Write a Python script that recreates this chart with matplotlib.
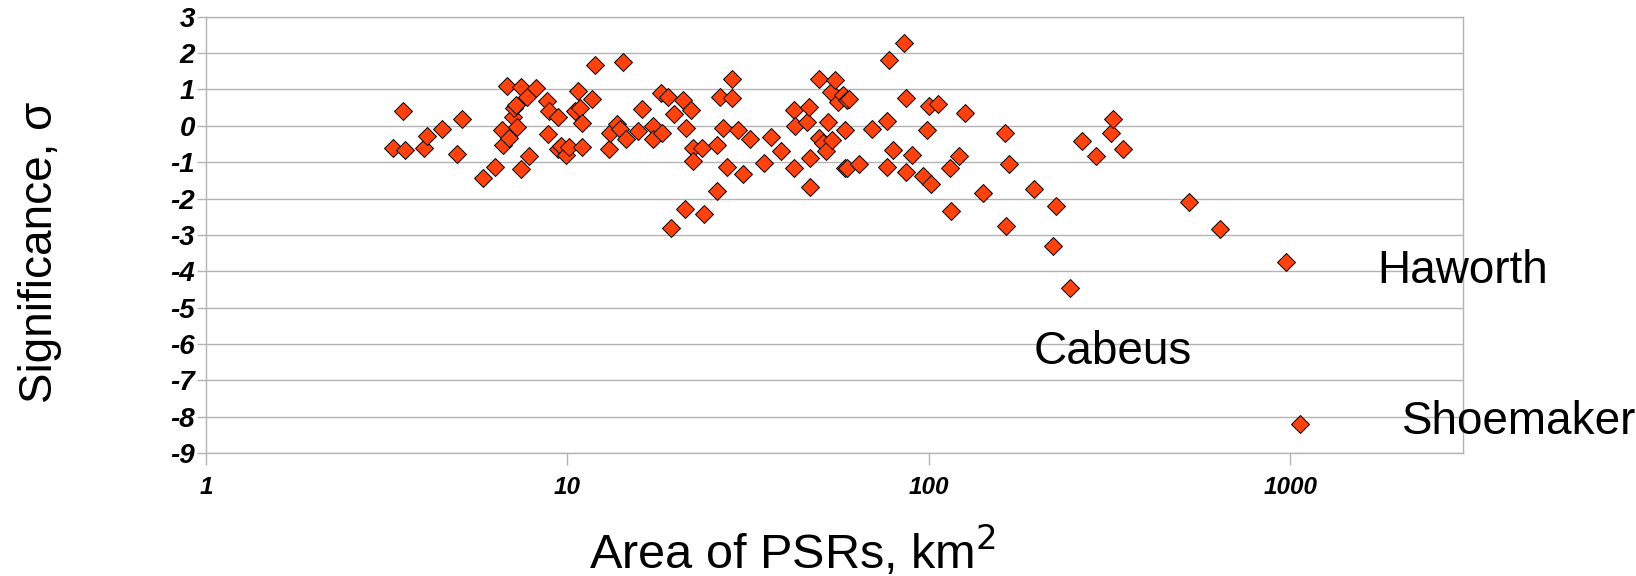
import numpy as np
import matplotlib.pyplot as plt

plt.rcParams['font.family'] = ['Liberation Sans', 'DejaVu Sans']
plt.rcParams['axes.unicode_minus'] = False

# PSR area (km^2) and significance (sigma)
area = [3.3, 3.5, 3.55, 4.0, 4.1, 4.5, 4.95, 5.1, 5.85, 6.3,
        6.6, 6.65, 6.8, 6.9, 7.05, 7.1, 7.2, 7.25, 7.45, 7.45,
        7.75, 7.85, 8.2, 8.8, 8.9, 8.85, 9.4, 9.4, 9.6, 9.9,
        10.1, 10.5, 10.7, 10.85, 11.0, 11.0, 11.7, 11.9, 13.0, 13.1,
        13.7, 14.0, 14.2, 14.5, 15.7, 16.1, 17.2, 17.2, 18.2, 18.3,
        19.0, 19.3, 19.7, 20.9, 21.1, 21.3, 21.9, 22.2, 22.2, 23.5,
        23.8, 25.9, 26.0, 26.4, 27.0, 27.7, 28.6, 28.6, 29.6, 30.6,
        32.0, 35.0, 36.5, 39.0, 42.2, 42.2, 42.5, 46.0, 46.5, 47.0,
        47.0, 49.6, 49.6, 51.0, 52.0, 52.5, 53.5, 54.0, 55.0, 56.0,
        58.0, 58.6, 58.6, 59.5, 59.5, 60.0, 64.0, 69.5, 76.4, 76.6,
        77.5, 79.5, 85.3, 86.5, 86.5, 90.0, 96.0, 98.5, 100.0, 101.0,
        106.0, 114.0, 115.0, 121.0, 126.0, 141.0, 162.0, 163.0, 167.0, 195.0,
        220.0, 224.0, 245.0, 265.0, 290.0, 318.0, 322.0, 345.0, 525.0, 640.0,
        975.0, 1060.0]
sigma = [-0.62, 0.4, -0.67, -0.62, -0.28, -0.09, -0.77, 0.19, -1.44, -1.13,
         -0.11, -0.53, 1.1, -0.33, 0.25, 0.48, 0.56, -0.03, 1.07, -1.2,
         0.79, -0.82, 1.05, 0.68, 0.4, -0.23, 0.24, -0.65, -0.56, -0.81,
         -0.58, 0.41, 0.96, 0.49, 0.07, -0.59, 0.74, 1.67, -0.64, -0.2,
         0.06, -0.1, 1.75, -0.37, -0.15, 0.46, -0.01, -0.37, 0.9, -0.2,
         0.8, -2.81, 0.32, 0.71, -2.3, -0.07, 0.44, -0.62, -0.97, -0.61,
         -2.43, -1.8, -0.53, 0.8, -0.07, -1.14, 1.29, 0.77, -0.12, -1.33,
         -0.36, -1.03, -0.32, -0.68, 0.43, -1.16, -0.01, 0.1, 0.52, -0.88,
         -1.68, 1.29, -0.33, -0.48, -0.7, 0.1, 0.93, -0.39, 1.26, 0.66,
         0.85, -0.12, -1.16, 0.71, -1.17, 0.74, -1.05, -0.09, 0.13, -1.13,
         1.81, -0.67, 2.28, 0.77, -1.27, -0.8, -1.38, -0.12, 0.54, -1.6,
         0.6, -1.16, -2.35, -0.83, 0.35, -1.85, -0.2, -2.75, -1.05, -1.75,
         -3.3, -2.2, -4.45, -0.42, -0.83, -0.2, 0.2, -0.65, -2.1, -2.85,
         -3.75, -8.2]

# crater labels
names = ['Haworth', 'Cabeus', 'Shoemaker']
name_x = [1740, 195, 2040]
name_y = [-4.32, -6.55, -8.48]

fig = plt.figure(figsize=(16.36, 5.76), dpi=100)
ax = fig.add_axes([0.1259, 0.2135, 0.7683, 0.7575])

ax.plot(area, sigma, linestyle='none', marker='D', markersize=8.8,
        markerfacecolor='#ff420e', markeredgecolor='black', markeredgewidth=0.7,
        zorder=3)

for n, x, y in zip(names, name_x, name_y):
    ax.text(x, y, n, fontsize=33, ha='left', va='baseline')

ax.set_xscale('log')
ax.set_xlim(1, 3000)
ax.set_ylim(-9, 3)
ax.set_xticks([1, 10, 100, 1000])
ax.set_xticklabels(['1', '10', '100', '1000'])
ax.xaxis.set_minor_locator(plt.NullLocator())
ax.set_yticks(range(-9, 4))

ax.grid(axis='y', color='#b3b3b3', linewidth=1.0)
ax.set_axisbelow(True)
for s in ax.spines.values():
    s.set_color('#b3b3b3')
    s.set_linewidth(1.0)

ax.tick_params(axis='both', color='#b3b3b3', width=1.0, direction='out')
ax.tick_params(axis='y', length=6.5, pad=1.5, labelsize=20)
ax.tick_params(axis='x', length=8.5, pad=8, labelsize=17.5)
for lab in ax.get_xticklabels() + ax.get_yticklabels():
    lab.set_fontweight('bold')
    lab.set_fontstyle('italic')

ax.set_xlabel('Area of PSRs, km$^2$', fontsize=35)
ax.set_ylabel('Significance, σ', fontsize=33)
ax.xaxis.set_label_coords(0.467, -0.162)
ax.yaxis.set_label_coords(-0.1146, 0.461)

fig.savefig('out.png', dpi=100)
